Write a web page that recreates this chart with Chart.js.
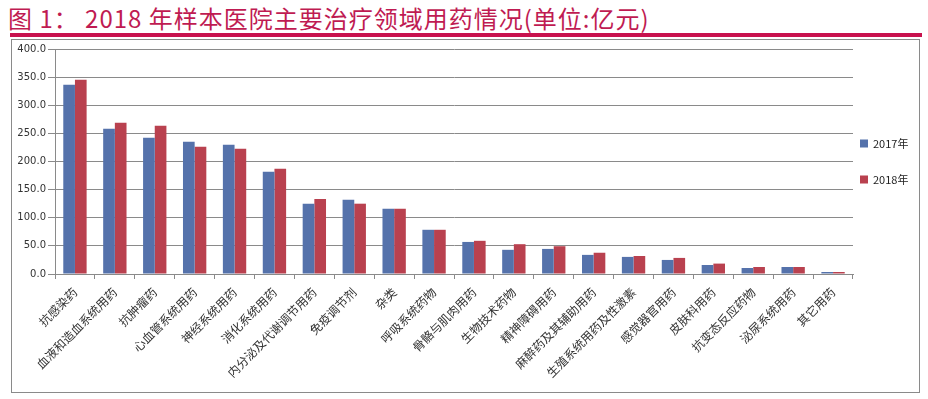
<!DOCTYPE html>
<html><head><meta charset="utf-8">
<script src="https://cdn.jsdelivr.net/npm/chart.js@4"></script>
<style>
html,body{margin:0;padding:0;background:#fff;width:928px;height:399px;overflow:hidden;}
#title{position:absolute;left:8px;top:3px;font-family:"Noto Sans CJK SC";font-size:24px;line-height:30px;color:#bf1b52;white-space:nowrap;letter-spacing:1px;}
#rule{position:absolute;left:10px;top:33px;width:912px;height:4px;background:#c8124e;}
#frame{position:absolute;left:11px;top:39px;width:907px;height:352px;border:1px solid #8a8a8a;}
#wrap{position:absolute;left:0;top:0;width:907px;height:352px;}
</style></head>
<body>
<div id="title">图 1： 2018 年样本医院主要治疗领域用药情况(单位:亿元)</div>
<div id="rule"></div>
<div id="frame"><div id="wrap"><canvas id="c"></canvas></div></div>
<script>
const categories = ["抗感染药","血液和造血系统用药","抗肿瘤药","心血管系统用药","神经系统用药","消化系统用药","内分泌及代谢调节用药","免疫调节剂","杂类","呼吸系统药物","骨骼与肌肉用药","生物技术药物","精神障碍用药","麻醉药及其辅助用药","生殖系统用药及性激素","感觉器官用药","皮肤科用药","抗变态反应药物","泌尿系统用药","其它用药"];
const seriesNames = ["2017年","2018年"];
const values2017 = [336.6,258.4,242.4,235.3,229.9,181.9,125.0,132.0,116.0,78.6,57.0,43.0,44.6,34.0,30.4,25.0,16.0,10.7,12.5,3.6];
const values2018 = [345.5,269.0,263.7,226.4,222.8,187.3,133.5,125.0,116.0,78.6,59.0,53.0,49.4,37.8,32.0,28.6,18.5,12.5,12.5,3.6];
const yMin = 0, yMax = 400, yStep = 50;

const sideLegend = {
  id:'sideLegend',
  afterDraw(chart){
    const {ctx, chartArea} = chart;
    const cy = (chartArea.top + chartArea.bottom) / 2;
    ctx.save();
    chart.data.datasets.forEach((ds, i) => {
      const y = cy - 18 + i * 36;
      ctx.fillStyle = ds.backgroundColor;
      ctx.fillRect(chartArea.right + 7, y - 4, 8, 8);
      ctx.fillStyle = '#222';
      ctx.font = '11px "Noto Sans CJK SC"';
      ctx.textBaseline = 'middle';
      ctx.textAlign = 'left';
      ctx.fillText(ds.label, chartArea.right + 20, y);
    });
    ctx.restore();
  }
};

new Chart(document.getElementById('c'), {
  type:'bar',
  data:{
    labels:categories,
    datasets:[
      {label:seriesNames[0], data:values2017, backgroundColor:'#5572ab', borderWidth:0, categoryPercentage:0.585, barPercentage:1},
      {label:seriesNames[1], data:values2018, backgroundColor:'#b9414f', borderWidth:0, categoryPercentage:0.585, barPercentage:1}
    ]
  },
  options:{
    responsive:true, maintainAspectRatio:false, animation:false,
    layout:{padding:{top:9,right:66,bottom:0,left:0}},
    plugins:{legend:{display:false}, tooltip:{enabled:false}},
    scales:{
      x:{
        grid:{offset:true, drawOnChartArea:false, color:'#8a8a8a', tickLength:5},
        border:{color:'#8a8a8a'},
        ticks:{autoSkip:false, maxRotation:45, minRotation:45, padding:6, color:'#333', font:{family:'"Noto Sans CJK SC"', size:12}},
        afterFit(s){ s.height = 118; }
      },
      y:{
        min:yMin, max:yMax,
        ticks:{stepSize:yStep, padding:2, color:'#333', font:{family:'"DejaVu Sans"', size:10}, callback:v=>Number(v).toFixed(1)},
        grid:{color:'#8a8a8a', tickLength:7},
        border:{color:'#8a8a8a'},
        afterFit(s){ s.width = 43; }
      }
    }
  },
  plugins:[sideLegend]
});
</script>
</body></html>
